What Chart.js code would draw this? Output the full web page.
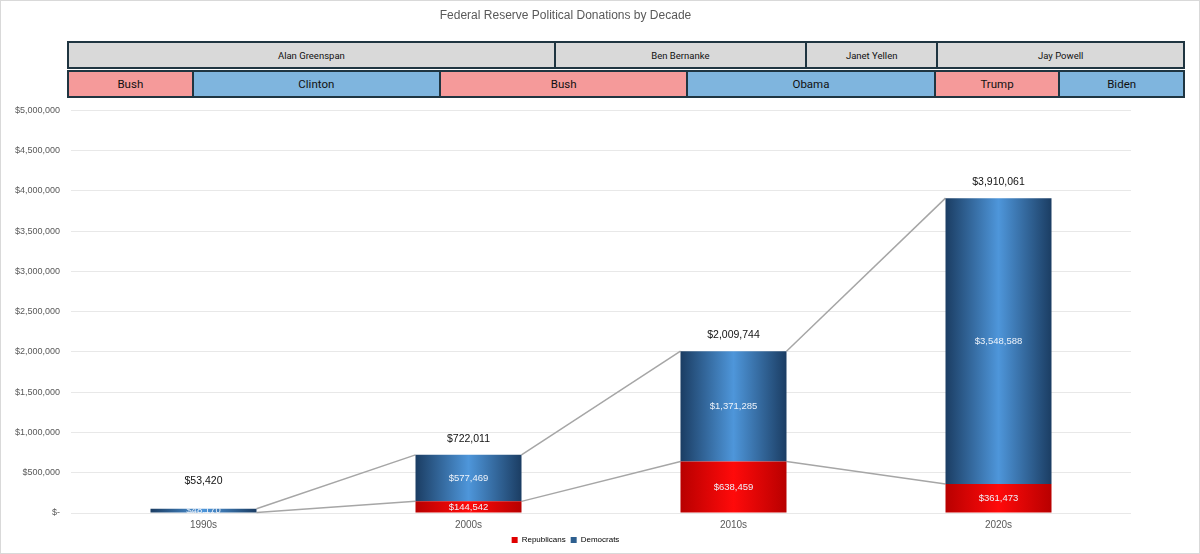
<!DOCTYPE html>
<html>
<head>
<meta charset="utf-8">
<title>Federal Reserve Political Donations by Decade</title>
<script src="https://cdn.jsdelivr.net/npm/chart.js@4.4.1/dist/chart.umd.min.js"></script>
<style>
  html, body { margin: 0; padding: 0; background: #fff; }
  #wrap { position: relative; width: 1200px; height: 554px; overflow: hidden; }
  #chart { position: absolute; left: 0; top: 0; }
  #frame { position: absolute; left: 0; top: 0; width: 1200px; height: 554px; box-sizing: border-box;
           border: 1px solid #d9d9d9; pointer-events: none; }
  .band { position: absolute; left: 67px; width: 1118px; height: 28px; display: flex; box-sizing: border-box;
          border: 2px solid #1f3541; font-family: Roboto, "Liberation Sans", sans-serif; color: #111; }
  .band div { display: flex; align-items: center; justify-content: center; box-sizing: border-box;
              border-left: 2px solid #1f3541; flex-basis: 0; }
  .band div:first-child { border-left: none; }
  #chairs { top: 41px; font-size: 9.5px; }
  #chairs div { background: #d9d9d9; }
  #presidents { top: 70px; font-size: 11.5px; }
  .rep { background: #f59a9a; }
  .dem { background: #7fb5de; }
</style>
</head>
<body>
<div id="wrap">
  <canvas id="chart" width="1200" height="554"></canvas>
  <div class="band" id="chairs"></div>
  <div class="band" id="presidents"></div>
  <div id="frame"></div>
</div>
<script>
/* ---- data ---- */
const decades = ['1990s', '2000s', '2010s', '2020s'];
const republicans = [5250, 144542, 638459, 361473];
const democrats = [48170, 577469, 1371285, 3548588];

const chairs = ['Alan Greenspan', 'Ben Bernanke', 'Janet Yellen', 'Jay Powell'];
const chairYears = [15.75, 8.1, 4.2, 7.95];

const presidents = ['Bush', 'Clinton', 'Bush', 'Obama', 'Trump', 'Biden'];
const presidentYears = [4, 8, 8, 8, 4, 4];
const presidentParty = ['rep', 'dem', 'rep', 'dem', 'rep', 'dem'];

/* ---- header bands ---- */
function fillBand(id, names, spans, classes) {
  const band = document.getElementById(id);
  names.forEach((name, i) => {
    const cell = document.createElement('div');
    cell.textContent = name;
    cell.style.flexGrow = spans[i];
    if (classes) cell.className = classes[i];
    band.appendChild(cell);
  });
}
fillBand('chairs', chairs, chairYears);
fillBand('presidents', presidents, presidentYears, presidentParty);

/* ---- helpers ---- */
const FONT = '"Liberation Sans", Arial, sans-serif';
const money = (v) => '$' + Math.round(v).toLocaleString('en-US');

function barGradient(context, stops) {
  const chart = context.chart;
  const area = chart.chartArea;
  if (!area || !chart.scales.x) return stops[1];
  const x = chart.scales.x.getPixelForValue(context.dataIndex);
  const w = (area.right - area.left) / decades.length * 0.4;
  const g = chart.ctx.createLinearGradient(x - w / 2, 0, x + w / 2, 0);
  g.addColorStop(0, stops[0]);
  g.addColorStop(0.5, stops[1]);
  g.addColorStop(1, stops[0]);
  return g;
}

/* series lines + data labels, like the Excel chart */
const barExtras = {
  id: 'barExtras',
  beforeDatasetsDraw(chart) {
    const ctx = chart.ctx;
    ctx.save();
    ctx.strokeStyle = '#a6a6a6';
    ctx.lineWidth = 1.5;
    [0, 1].forEach((d) => {
      const bars = chart.getDatasetMeta(d).data;
      for (let i = 0; i < bars.length - 1; i++) {
        const a = bars[i], b = bars[i + 1];
        ctx.beginPath();
        ctx.moveTo(a.x + a.width / 2, a.y);
        ctx.lineTo(b.x - b.width / 2, b.y);
        ctx.stroke();
      }
    });
    ctx.restore();
  },
  afterDatasetsDraw(chart) {
    const ctx = chart.ctx;
    const zeroY = chart.scales.y.getPixelForValue(0);
    ctx.save();
    ctx.textAlign = 'center';
    ctx.textBaseline = 'middle';

    // values inside each segment, clipped to the segment
    ctx.font = '9.5px ' + FONT;
    ctx.fillStyle = '#eef3fa';
    [0, 1].forEach((d) => {
      const ds = chart.data.datasets[d];
      chart.getDatasetMeta(d).data.forEach((bar, i) => {
        const top = Math.min(bar.y, bar.base);
        const h = Math.abs(bar.base - bar.y);
        ctx.save();
        ctx.beginPath();
        ctx.rect(bar.x - bar.width / 2, top - 0.5, bar.width, h + 1);
        ctx.clip();
        ctx.fillText(money(ds.data[i]), bar.x, top + h / 2);
        ctx.restore();
      });
    });

    // totals above each stack
    ctx.font = '10.5px ' + FONT;
    ctx.fillStyle = '#111';
    chart.getDatasetMeta(1).data.forEach((bar, i) => {
      const total = republicans[i] + democrats[i];
      const y = Math.min(bar.y - 16, zeroY - 32);
      ctx.fillText(money(total), bar.x, y);
    });
    ctx.restore();
  }
};

/* ---- chart ---- */
new Chart(document.getElementById('chart'), {
  type: 'bar',
  data: {
    labels: decades,
    datasets: [
      {
        label: 'Republicans',
        data: republicans,
        backgroundColor: (c) => barGradient(c, ['#b80000', '#ff0a0a']),
        borderWidth: 0
      },
      {
        label: 'Democrats',
        data: democrats,
        backgroundColor: (c) => barGradient(c, ['#1b3d63', '#4e96da']),
        borderWidth: 0
      }
    ]
  },
  options: {
    responsive: false,
    animation: false,
    barPercentage: 0.4,
    categoryPercentage: 1,
    layout: { padding: { left: 0, right: 69, bottom: 0, top: 0 } },
    plugins: {
      title: {
        display: true,
        text: 'Federal Reserve Political Donations by Decade',
        color: '#595959',
        font: { family: FONT, size: 12, weight: 'normal' },
        padding: { top: 8, bottom: 88 }
      },
      legend: {
        position: 'bottom',
        labels: {
          color: '#595959',
          font: { family: FONT, size: 8 },
          boxWidth: 6,
          boxHeight: 6,
          padding: 5,
          generateLabels: (chart) => [
            { text: 'Republicans', fillStyle: '#e00000', strokeStyle: '#e00000', lineWidth: 0, datasetIndex: 0 },
            { text: 'Democrats', fillStyle: '#2e5f8f', strokeStyle: '#2e5f8f', lineWidth: 0, datasetIndex: 1 }
          ]
        }
      },
      tooltip: { enabled: false }
    },
    scales: {
      x: {
        stacked: true,
        grid: { display: false, drawTicks: false },
        border: { display: false },
        ticks: { color: '#595959', font: { family: FONT, size: 10 }, padding: 6 },
        afterFit: (s) => { s.height = 18; }
      },
      y: {
        stacked: true,
        min: 0,
        max: 5000000,
        grid: { color: '#e8e8e8', drawTicks: false },
        border: { display: false },
        ticks: {
          stepSize: 500000,
          color: '#595959',
          font: { family: FONT, size: 9 },
          padding: 11,
          callback: (v) => (v === 0 ? '$-' : money(v))
        },
        afterFit: (s) => { s.width = 71; }
      }
    }
  },
  plugins: [barExtras]
});
</script>
</body>
</html>
